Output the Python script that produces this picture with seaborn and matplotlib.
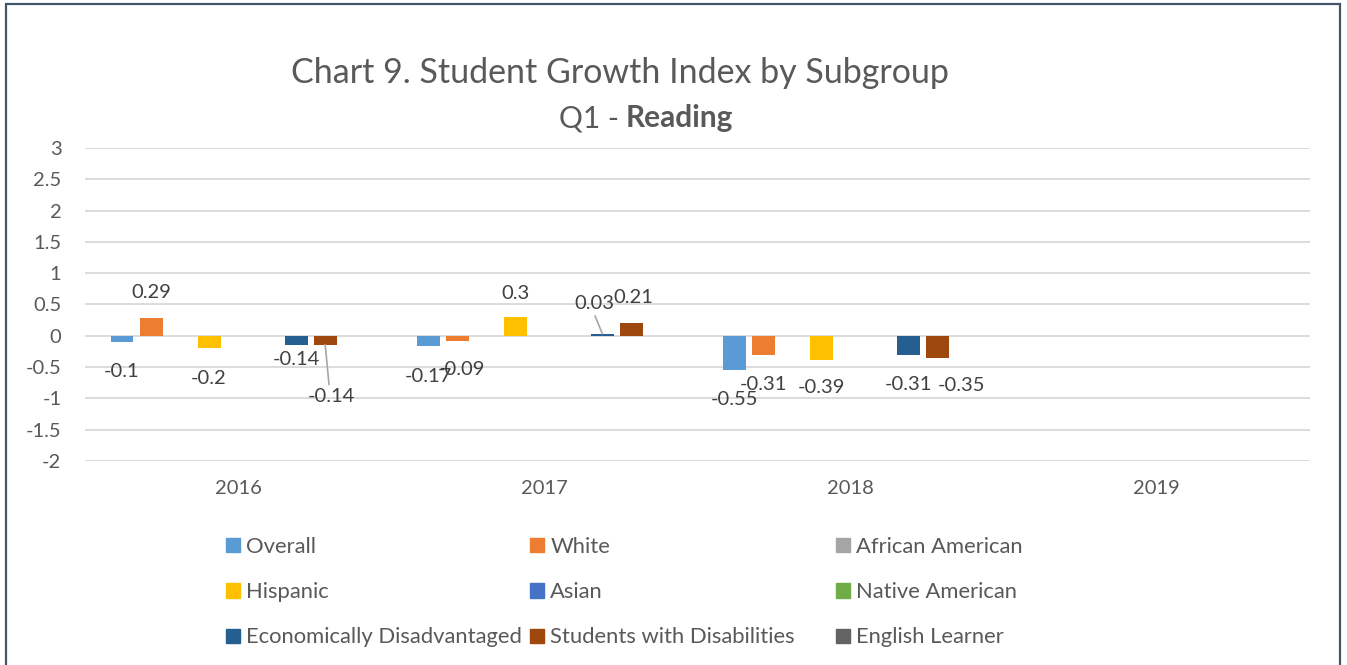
import numpy as np
import pandas as pd
import matplotlib
matplotlib.use("Agg")
import matplotlib.pyplot as plt
import matplotlib.patches as mpatches
import seaborn as sns

# --- data ---
years = ["2016", "2017", "2018", "2019"]
subgroups = ["Overall", "White", "African American", "Hispanic", "Asian",
             "Native American", "Economically Disadvantaged",
             "Students with Disabilities", "English Learner"]
nan = np.nan
overall = [-0.10, -0.17, -0.55, nan]
white = [0.29, -0.09, -0.31, nan]
african_american = [nan, nan, nan, nan]
hispanic = [-0.20, 0.30, -0.39, nan]
asian = [nan, nan, nan, nan]
native_american = [nan, nan, nan, nan]
econ_disadv = [-0.14, 0.03, -0.31, nan]
students_disab = [-0.14, 0.21, -0.35, nan]
english_learner = [nan, nan, nan, nan]

series = [overall, white, african_american, hispanic, asian,
          native_american, econ_disadv, students_disab, english_learner]

colors = ["#5B9BD5", "#ED7D31", "#A5A5A5", "#FFC000", "#4472C4",
          "#70AD47", "#255E91", "#9E480E", "#636363"]

rows = []
for name, vals in zip(subgroups, series):
    for yr, v in zip(years, vals):
        rows.append({"year": yr, "subgroup": name, "value": v})
df = pd.DataFrame(rows)

# label offsets in pixels (dx, dy) from the bar end, keyed by (year idx, subgroup idx)
label_off = {
    (0, 0): (0, -29), (0, 1): (0, 25), (0, 3): (0, -30), (0, 6): (0, -15), (0, 7): (6, -52),
    (1, 0): (0, -30), (1, 1): (4, -28), (1, 3): (0, 24), (1, 6): (-8, 30), (1, 7): (2, 25),
    (2, 0): (0, -29), (2, 1): (0, -29), (2, 3): (0, -27), (2, 6): (0, -29), (2, 7): (24, -28),
}
leader = {(0, 7), (1, 6)}

plt.rcParams["font.family"] = ["Lato", "DejaVu Sans"]
text_col = "#595959"

fig = plt.figure(figsize=(13.47, 6.65), dpi=100)
ax = fig.add_axes([85 / 1347, 1 - 461 / 665, 1225 / 1347, 313 / 665])

group_w = 0.853
sns.barplot(data=df, x="year", y="value", hue="subgroup", order=years,
            hue_order=subgroups, palette=colors, width=group_w, gap=0.21,
            errorbar=None, legend=False, ax=ax, saturation=1)

ax.set_xlim(-0.5, 3.5)
ax.set_ylim(-2, 3)
ax.set_yticks(np.arange(-2, 3.01, 0.5))
ax.set_yticklabels([f"{t:g}" for t in np.arange(-2, 3.01, 0.5)])
ax.grid(axis="y", color="#D9D9D9", linewidth=1.3)
ax.set_axisbelow(True)
for s in ax.spines.values():
    s.set_visible(False)
ax.tick_params(axis="both", length=0, labelsize=14.5, labelcolor=text_col)
ax.tick_params(axis="x", pad=14)
ax.tick_params(axis="y", pad=17)
ax.set_xlabel("")
ax.set_ylabel("")

# data labels
step = group_w / len(subgroups)
for p in ax.patches:
    h = p.get_height()
    if np.isnan(h) or p.get_width() == 0:
        continue
    cx = p.get_x() + p.get_width() / 2
    yi = int(round(cx))
    si = int(round((cx - yi) / step + (len(subgroups) - 1) / 2))
    dx, dy = label_off.get((yi, si), (0, 25 if h >= 0 else -28))
    ax.annotate(f"{h:g}", (cx, h), xytext=(dx, dy), textcoords="offset pixels",
                ha="center", va="center", fontsize=14.5, color="#404040")
    if (yi, si) in leader:
        sgn = 1 if dy > 0 else -1
        ax.annotate("", (cx, h), xytext=(dx * 0.8 - 1, dy - sgn * 12),
                    textcoords="offset pixels",
                    arrowprops=dict(arrowstyle="-", color="#A6A6A6", lw=1.2,
                                    shrinkA=0, shrinkB=0))

# title
fig.text(620 / 1347, 1 - 73 / 665, "Chart 9. Student Growth Index by Subgroup",
         ha="center", va="center", fontsize=24.5, color=text_col)
fig.text(619 / 1347, 1 - 118 / 665, "Q1 -", ha="right", va="center",
         fontsize=21.5, color=text_col)
fig.text(626 / 1347, 1 - 118 / 665, "Reading", ha="left", va="center",
         fontsize=21.5, color=text_col, fontweight="bold")

# legend: three columns placed like the original
handles = [mpatches.Patch(color=c, label=n) for n, c in zip(subgroups, colors)]
col_x = [226, 530, 836]
for ci in range(3):
    hs = [handles[ci], handles[ci + 3], handles[ci + 6]]
    leg = fig.legend(handles=hs, loc="upper left",
                     bbox_to_anchor=(col_x[ci] / 1347, 1 - 537 / 665),
                     frameon=False, fontsize=15.8, handlelength=0.62,
                     handleheight=0.62, handletextpad=0.3, labelspacing=1.15,
                     borderaxespad=0, borderpad=0)
    for t in leg.get_texts():
        t.set_color(text_col)

# outer frame
fig.patches.append(mpatches.Rectangle((6 / 1347, -0.02), 1334 / 1347, 1.02 - 4 / 665,
                                      transform=fig.transFigure, fill=False,
                                      edgecolor="#44546A", linewidth=1.6))

fig.savefig("out.png", dpi=100)
